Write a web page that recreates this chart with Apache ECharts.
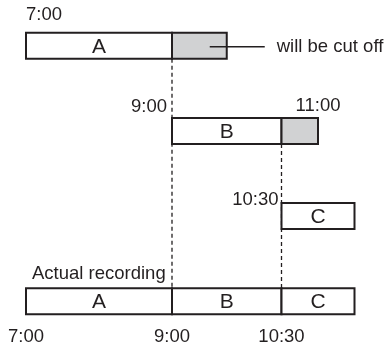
<!DOCTYPE html>
<html>
<head>
<meta charset="utf-8">
<script src="https://cdn.jsdelivr.net/npm/echarts@6/dist/echarts.min.js"></script>
<style>
html, body { margin: 0; padding: 0; background: #fff; }
#chart { width: 389px; height: 346px; }
</style>
</head>
<body>
<div id="chart"></div>
<script>
// programmes, times in hours of the day
const programs = ['A', 'B', 'C'];
const plannedStart = [7, 9, 10.5];
const plannedEnd = [9.75, 11, 11.5];
const recordedEnd = [9, 10.5, 11.5];
const actualRowName = 'Actual recording';
// time marks written next to the planned rows
const markTimes = [7, 9, 11, 10.5];
const markRows = [0, 1, 1, 2];
// time marks under the actual recording row
const axisTimes = [7, 9, 10.5];
const cutOffText = 'will be cut off';

// placement of the time marks (px, relative to the row centre)
const markPlace = [
    { dx: 0, dy: -31, align: 'left' },
    { dx: -5, dy: -24, align: 'right' },
    { dx: 0, dy: -25, align: 'center' },
    { dx: -3, dy: -16, align: 'right' }
];

const INK = '#231f20';
const GRAY = '#d1d2d3';
const FAMILY = '"Liberation Sans", Arial, sans-serif';
const FONT = '18.5px ' + FAMILY;
const BAR_FONT = '21px ' + FAMILY;
const BAR_H = 26;
const ACTUAL_ROW = programs.length;

const fmt = v => {
    const h = Math.floor(v);
    const m = Math.round((v - h) * 60);
    return h + ':' + (m < 10 ? '0' : '') + m;
};

// bars: [start, end, row], with text and kind kept alongside
const bars = [];
const barInfo = [];
programs.forEach((p, i) => {
    bars.push([plannedStart[i], recordedEnd[i], i]);
    barInfo.push({ text: p, cut: false });
    if (plannedEnd[i] > recordedEnd[i]) {
        bars.push([recordedEnd[i], plannedEnd[i], i]);
        barInfo.push({ text: '', cut: true });
    }
});
programs.forEach((p, i) => {
    bars.push([plannedStart[i], recordedEnd[i], ACTUAL_ROW]);
    barInfo.push({ text: p, cut: false });
});

// dashed guides where one programme hands over to the next
const guides = [];
for (let i = 0; i < programs.length - 1; i++) {
    guides.push([recordedEnd[i], i]);
}

const marks = markTimes.map((t, i) => [t, markRows[i]]);

const chart = echarts.init(document.getElementById('chart'));

chart.setOption({
    animation: false,
    grid: { left: 26, right: 34.5, top: 3.25, bottom: 29.15 },
    xAxis: {
        type: 'value',
        min: 7,
        max: 11.5,
        axisLine: { show: false },
        axisTick: { show: false },
        splitLine: { show: false },
        axisLabel: {
            customValues: axisTimes,
            formatter: fmt,
            fontSize: 18.5,
            fontFamily: FAMILY,
            color: INK,
            margin: 13
        }
    },
    yAxis: {
        type: 'value',
        inverse: true,
        min: -0.5,
        max: 3.15,
        show: false
    },
    series: [
        {
            type: 'custom',
            z: 1,
            data: guides,
            renderItem(params, api) {
                const top = api.coord([api.value(0), api.value(1)]);
                const bottom = api.coord([api.value(0), ACTUAL_ROW]);
                return {
                    type: 'line',
                    shape: { x1: top[0], y1: top[1] + BAR_H / 2, x2: bottom[0], y2: bottom[1] - BAR_H / 2 },
                    style: { stroke: INK, lineWidth: 1.3, lineDash: [4, 3] }
                };
            }
        },
        {
            type: 'custom',
            z: 2,
            data: bars,
            renderItem(params, api) {
                const info = barInfo[params.dataIndex];
                const p0 = api.coord([api.value(0), api.value(2)]);
                const p1 = api.coord([api.value(1), api.value(2)]);
                return {
                    type: 'group',
                    children: [
                        {
                            type: 'rect',
                            shape: { x: p0[0], y: p0[1] - BAR_H / 2, width: p1[0] - p0[0], height: BAR_H },
                            style: { fill: info.cut ? GRAY : '#fff', stroke: INK, lineWidth: 2 }
                        },
                        {
                            type: 'text',
                            style: {
                                text: info.text,
                                x: (p0[0] + p1[0]) / 2,
                                y: p0[1] + 1,
                                align: 'center',
                                verticalAlign: 'middle',
                                font: BAR_FONT,
                                fill: INK
                            }
                        }
                    ]
                };
            }
        },
        {
            // leader to the "will be cut off" note on the first programme
            type: 'custom',
            z: 3,
            data: [[recordedEnd[0], plannedEnd[0], 0]],
            renderItem(params, api) {
                const end = api.coord([api.value(1), api.value(2)]);
                return {
                    type: 'group',
                    children: [
                        {
                            type: 'line',
                            shape: { x1: end[0] - 17, y1: end[1] + 1, x2: end[0] + 38, y2: end[1] + 1 },
                            style: { stroke: INK, lineWidth: 1.5 }
                        },
                        {
                            type: 'text',
                            style: {
                                text: cutOffText,
                                x: end[0] + 50,
                                y: end[1] + 1,
                                align: 'left',
                                verticalAlign: 'middle',
                                font: FONT,
                                fill: INK
                            }
                        }
                    ]
                };
            }
        },
        {
            type: 'custom',
            z: 3,
            data: marks,
            renderItem(params, api) {
                const pl = markPlace[params.dataIndex];
                const p = api.coord([api.value(0), api.value(1)]);
                return {
                    type: 'text',
                    style: {
                        text: fmt(api.value(0)),
                        x: p[0] + pl.dx,
                        y: p[1] + pl.dy,
                        align: pl.align,
                        verticalAlign: 'middle',
                        font: FONT,
                        fill: INK
                    }
                };
            }
        },
        {
            type: 'custom',
            z: 3,
            data: [[plannedStart[0], ACTUAL_ROW]],
            renderItem(params, api) {
                const p = api.coord([api.value(0), api.value(1)]);
                return {
                    type: 'text',
                    style: {
                        text: actualRowName,
                        x: p[0] + 6,
                        y: p[1] - 27,
                        align: 'left',
                        verticalAlign: 'middle',
                        font: FONT,
                        fill: INK
                    }
                };
            }
        }
    ]
});
</script>
</body>
</html>
